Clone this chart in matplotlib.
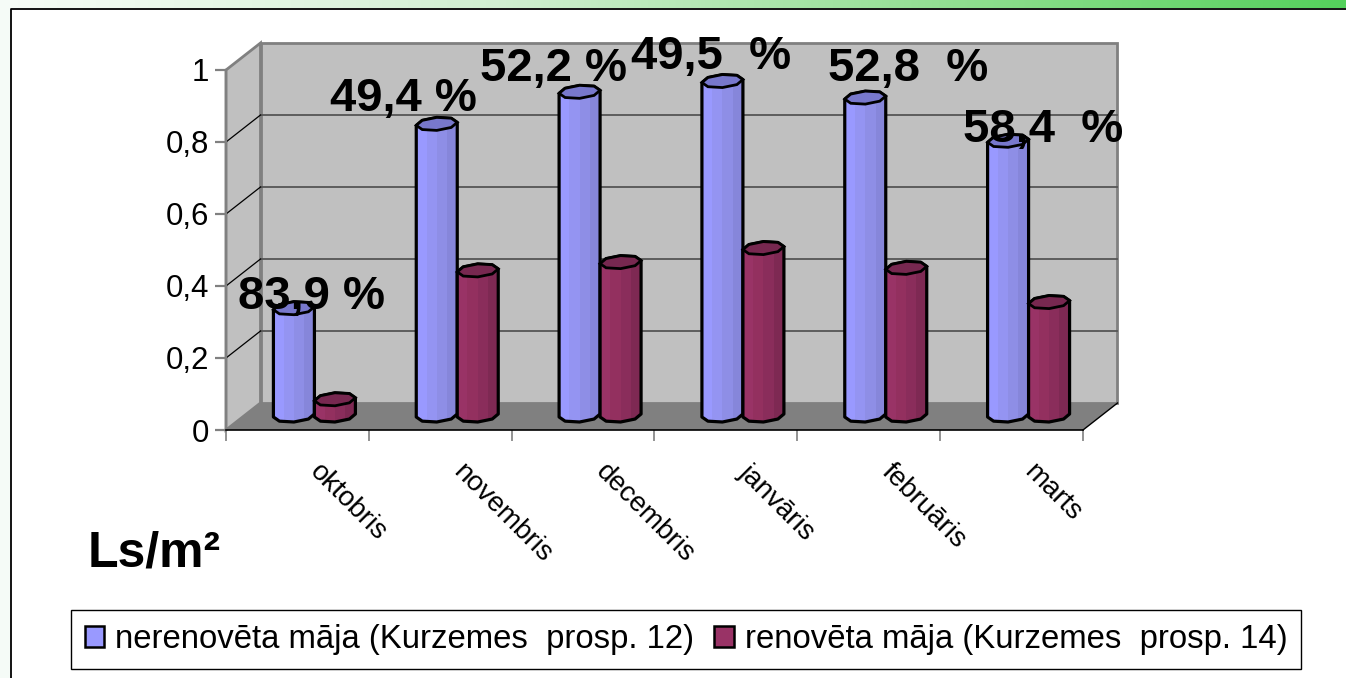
import numpy as np
import matplotlib
matplotlib.use('Agg')
from matplotlib import pyplot as plt
from matplotlib.patches import Patch, Polygon
from matplotlib.transforms import Affine2D

plt.rcParams['font.family'] = ['Liberation Sans', 'DejaVu Sans']

months = ['oktobris', 'novembris', 'decembris', 'janvāris', 'februāris', 'marts']
old_house = [0.298, 0.81, 0.899, 0.929, 0.883, 0.763]
new_house = [0.045, 0.403, 0.426, 0.465, 0.41, 0.315]
pct_labels = ['83,9 %', '49,4 %', '52,2 %', '49,5  %', '52,8  %', '58,4  %']
y_ticks = [0, 0.2, 0.4, 0.6, 0.8, 1]
y_labels = ['0', '0,2', '0,4', '0,6', '0,8', '1']
series_names = ['nerenovēta māja (Kurzemes  prosp. 12)', 'renovēta māja (Kurzemes  prosp. 14)']

W, H = 1346, 678
fig = plt.figure(figsize=(W / 100, H / 100), dpi=100, facecolor='white')

# slide background: green band on top, pale strip on the left
bg = fig.add_axes([0, 0, 1, 1], zorder=0)
bg.set_xlim(0, W)
bg.set_ylim(H, 0)
bg.axis('off')
band = np.array([[0.97, 0.99, 0.97], [0.82, 0.94, 0.82], [0.56, 0.87, 0.56], [0.33, 0.82, 0.36]])
stops = np.linspace(0, 1, W)
grad = np.stack([np.interp(stops, [0, 0.37, 0.72, 1], band[:, c]) for c in range(3)], axis=1)
bg.imshow(grad[np.newaxis, :, :], extent=[0, W, 8, 0], aspect='auto')
bg.axvspan(0, 10, color='#F5FBF7', lw=0)
bg.set_xlim(0, W)
bg.set_ylim(H, 0)
bg.plot([10.5, 10.5, W], [H, 8.5, 8.5], color='black', lw=1.3, solid_capstyle='butt')

# front plane of the 3d box
ax = fig.add_axes([226 / W, 1 - 430 / H, 857 / W, 360 / H], zorder=1)
ax.patch.set_visible(False)
ax.set_xlim(0, 6)
ax.set_ylim(0, 1)

middle = ax.transData + Affine2D().translate(17, 14.5)
px_x = 6 / 857
px_y = 1 / 360
dx, dy = 34.5 * px_x, 27 * px_y

wall = '#C0C0C0'
edge = '#808080'
ax.add_patch(Polygon([(0, 0), (dx, dy), (dx, 1 + dy), (0, 1)], fc=wall, ec=edge, lw=2, clip_on=False, zorder=1))
ax.add_patch(Polygon([(dx, dy), (6 + dx, dy), (6 + dx, 1 + dy), (dx, 1 + dy)], fc=wall, ec=edge, lw=2, clip_on=False, zorder=1))
for t in y_ticks[1:-1]:
    ax.plot([dx, 6 + dx], [t + dy, t + dy], color='#555555', lw=1.3, clip_on=False, zorder=2)
    ax.plot([0, dx], [t, t + dy], color='black', lw=0.9, clip_on=False, zorder=2)
ax.add_patch(Polygon([(0, 0), (dx, dy), (6 + dx, dy), (6, 0)], fc=edge, ec='none', clip_on=False, zorder=2))
ax.plot([6, 6 + dx], [0, dy], color='black', lw=1, clip_on=False, zorder=3)

# octagon used for the cylinder caps, slightly tilted like the original
ang = np.radians([180, 135, 90, 45, 0, -45, -90, -135])
cap_w = 0.1435
cap_h = 6.5 * px_y


def cap_points(cx, cy):
    xs = cx + cap_w * np.cos(ang)
    ys = cy + cap_h * np.sin(ang) + 1.5 * px_y * np.cos(ang)
    return np.column_stack([xs, ys])


def cylinder(cx, val, colors, top_color, z):
    top = cap_points(cx, val)
    low = cap_points(cx, 0)
    # outline: left edge, lower half of base, right edge, upper part of cap
    outline = np.vstack([top[0], low[[0, 7, 6, 5, 4]], top[[4, 3, 2, 1]]])
    body = Polygon(outline, transform=middle, fc=colors[0], ec='none', clip_on=False, zorder=z)
    ax.add_patch(body)
    n = len(colors)
    sw = 2 * cap_w / n
    strips = ax.bar(cx - cap_w + sw * (np.arange(n) + 0.5), val + 3 * cap_h, sw, bottom=-1.5 * cap_h,
                    color=colors, lw=0, zorder=z + 0.1, clip_on=False)
    for s in strips:
        s.set_transform(middle)
        s.set_clip_on(True)
        s.set_clip_path(body)
    ax.add_patch(Polygon(outline, transform=middle, fc='none', ec='black', lw=2.3, joinstyle='round', clip_on=False, zorder=z + 0.2))
    ax.add_patch(Polygon(top, transform=middle, fc=top_color, ec='black', lw=2, clip_on=False, zorder=z + 0.3))


blues = ['#9999FF', '#9494F2', '#8E8EE6', '#8686DA']
reds = ['#993366', '#93305F', '#8A2D5B', '#7E2953']
for i in range(len(months)):
    cylinder(i + 0.5 - cap_w, old_house[i], blues, '#7878CC', 5 + i)
    cylinder(i + 0.5 + cap_w, new_house[i], reds, '#772850', 5.5 + i)

for s in ['top', 'right']:
    ax.spines[s].set_visible(False)
ax.spines['left'].set_color(edge)
ax.spines['left'].set_linewidth(1.6)
ax.spines['bottom'].set_color('black')
ax.spines['bottom'].set_linewidth(1.2)
for s in ax.spines.values():
    s.set_zorder(4)

ax.set_yticks(y_ticks, y_labels, fontsize=22.5)
ax.tick_params(axis='y', length=8, width=1.6, color=edge, pad=4)
ax.set_xticks(range(7), [''] * 7)
ax.tick_params(axis='x', which='major', length=8, width=1.2, color=edge)
ax.set_xticks(np.arange(6) + 0.5, months, minor=True, fontsize=20, rotation=-45, ha='left', va='top', rotation_mode='anchor')
ax.tick_params(axis='x', which='minor', length=0, pad=21)
for lab in ax.get_xticklabels(minor=True):
    lab.set_transform(lab.get_transform() + Affine2D().translate(26, 0))

# percent labels sit over the bars, placed by hand in the original
label_pos = [(238, 309), (330, 111), (480, 81), (631, 69), (828, 81), (963, 142)]
for s, (lx, ly) in zip(pct_labels, label_pos):
    fig.text(lx / W, 1 - ly / H, s, fontsize=34, fontweight='bold', color='black', zorder=20)

fig.text(88 / W, 1 - 567 / H, 'Ls/m²', fontsize=36, fontweight='bold', color='black', zorder=20)

handles = [Patch(fc='#9999FF', ec='black', lw=1.8), Patch(fc='#993366', ec='black', lw=1.8)]
leg = fig.legend(handles, series_names, ncol=2, loc='center', bbox_to_anchor=(686 / W, 1 - 639.5 / H),
                 fontsize=23.7, frameon=True, fancybox=False, framealpha=1, edgecolor='black',
                 handlelength=0.6, handleheight=0.6, handletextpad=0.33, columnspacing=0.6,
                 borderpad=0.42, borderaxespad=0)
leg.get_frame().set_linewidth(1)
leg.set_zorder(20)

fig.savefig('out.png', dpi=100)
